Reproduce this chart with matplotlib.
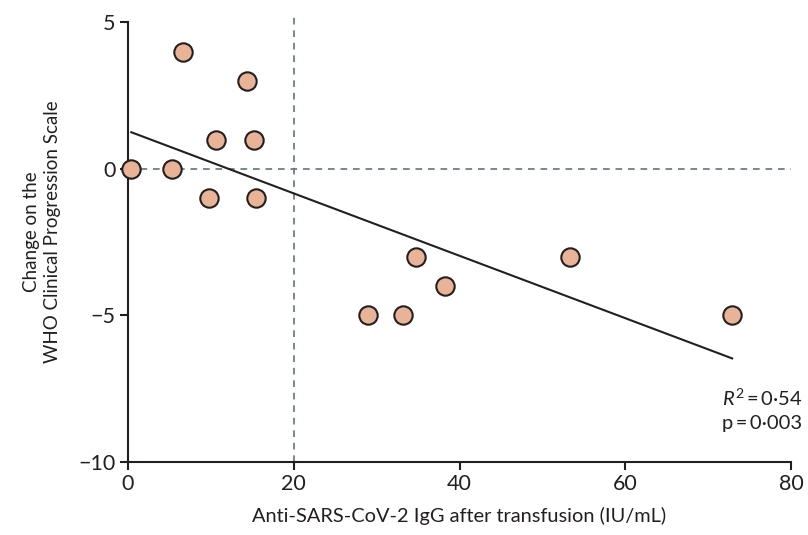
import matplotlib

matplotlib.use("Agg")
import matplotlib.pyplot as plt  # noqa: E402
import numpy as np  # noqa: E402

# antibody titre after transfusion (IU/mL) vs change on WHO scale
igg = [0.4, 5.3, 6.6, 9.8, 10.6, 14.4, 15.2, 15.4, 29.0, 33.2, 34.7, 38.2, 53.3, 72.9]
who_change = [0, 0, 4, -1, 1, 3, 1, -1, -5, -5, -3, -4, -3, -5]
x_ticks = [0, 20, 40, 60, 80]
y_ticks = [-10, -5, 0, 5]
y_tick_labels = ["\u221210", "\u22125", "0", "5"]
cutoff = 20

plt.rcParams["font.family"] = ["Lato", "DejaVu Sans"]
plt.rcParams["mathtext.fontset"] = "custom"
plt.rcParams["mathtext.rm"] = "Lato"
plt.rcParams["mathtext.it"] = "Lato:italic"
ink = "#231f20"
dash_col = "#5e7482"

fig = plt.figure(figsize=(8.08, 5.35), dpi=100)
ax = fig.add_axes([128 / 808, 1 - 462 / 535, (791 - 128) / 808, (462 - 12) / 535])

x = np.asarray(igg)
y = np.asarray(who_change)
slope, intercept = np.polyfit(x, y, 1)

ax.axhline(0, color=dash_col, lw=1.2, ls=(0, (4, 3.5)), zorder=1)
ax.axvline(cutoff, color=dash_col, lw=1.2, ls=(0, (4, 3.5)), zorder=1)

xf = np.array([x.min(), x.max()])
ax.plot(xf, intercept + slope * xf, color=ink, lw=1.5, zorder=2)
ax.scatter(x, y, s=175, facecolor="#e8b396", edgecolor=ink, linewidth=1.5,
           zorder=3, clip_on=False)

ax.set_xlim(0, 80)
ax.set_ylim(-10, 5.35)
ax.spines[["top", "right"]].set_visible(False)
for side in ["left", "bottom"]:
    ax.spines[side].set_color(ink)
    ax.spines[side].set_linewidth(1.5)
ax.spines["left"].set_bounds(-10, 5)
ax.set_xticks(x_ticks)
ax.set_yticks(y_ticks)
ax.set_yticklabels(y_tick_labels)
ax.tick_params(length=6, width=1.5, color=ink, labelsize=15.5, labelcolor=ink, pad=3)

ax.set_xlabel("Anti-SARS-CoV-2 IgG after transfusion (IU/mL)", fontsize=14.4,
              color=ink, labelpad=9)
fig.text(42 / 808, 1 - 232 / 535, "Change on the\nWHO Clinical Progression Scale",
         rotation=90, ha="center", va="center", fontsize=13.5, color=ink,
         linespacing=1.25)

ax.text(81.3, -7.45, "$\\mathit{R}^{2}$\u2009=\u20090\u00b754\np\u2009=\u20090\u00b7003",
        ha="right", va="top", fontsize=14.5, color=ink, linespacing=1.45,
        clip_on=False)

fig.savefig("out.png", dpi=100)
